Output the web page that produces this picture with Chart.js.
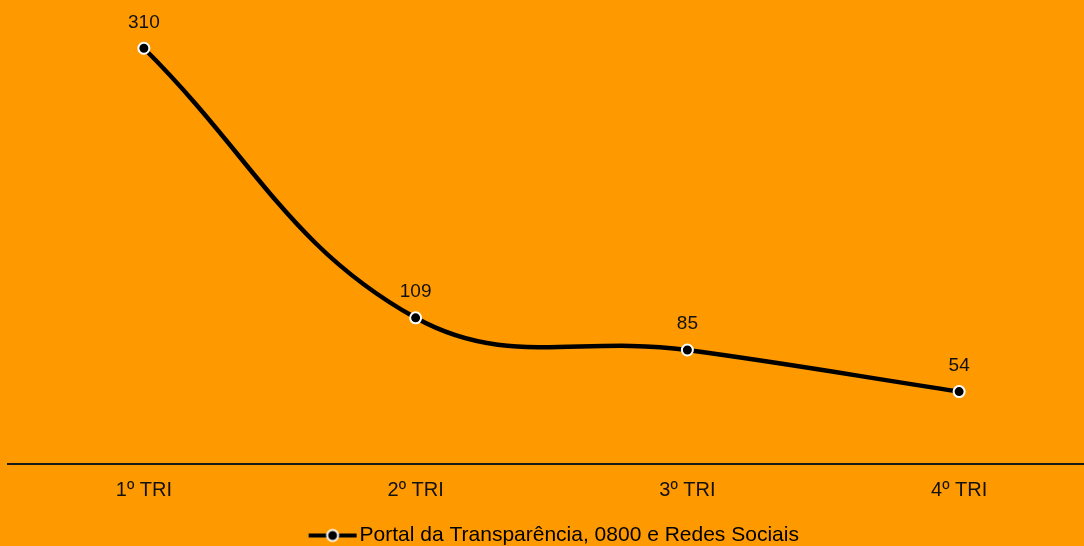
<!DOCTYPE html>
<html>
<head>
<meta charset="utf-8">
<script src="https://cdn.jsdelivr.net/npm/chart.js@4/dist/chart.umd.min.js"></script>
<style>
  html, body { margin: 0; padding: 0; background: #FF9900; overflow: hidden; }
  #wrap { width: 1095px; height: 556px; position: relative; }
</style>
</head>
<body>
<div id="wrap"><canvas id="chart"></canvas></div>
<script>
const categories = ["1º TRI", "2º TRI", "3º TRI", "4º TRI"];
const seriesName = "Portal da Transparência, 0800 e Redes Sociais";
const seriesValues = [310, 109, 85, 54];

const FONT = "'Liberation Sans', Arial, sans-serif";

// small canvas used as legend marker: line with a circle in the middle
// (drawn a little right of the image centre so the text sits close to it)
function legendMarker() {
    const c = document.createElement("canvas");
    c.width = 64;
    c.height = 16;
    const g = c.getContext("2d");
    g.strokeStyle = "#000";
    g.lineWidth = 4;
    g.beginPath();
    g.moveTo(14, 8);
    g.lineTo(62, 8);
    g.stroke();
    g.beginPath();
    g.arc(38, 8, 5.5, 0, Math.PI * 2);
    g.fillStyle = "#000";
    g.fill();
    g.lineWidth = 2;
    g.strokeStyle = "#fff";
    g.stroke();
    return c;
}

const valueLabels = {
    id: "valueLabels",
    afterDatasetsDraw(chart) {
        const ctx = chart.ctx;
        const meta = chart.getDatasetMeta(0);
        ctx.save();
        ctx.font = "19px " + FONT;
        ctx.fillStyle = "#111";
        ctx.textAlign = "center";
        ctx.textBaseline = "middle";
        meta.data.forEach((pt, i) => {
            ctx.fillText(String(seriesValues[i]), pt.x, pt.y - 26);
        });
        ctx.restore();
    }
};

const marker = legendMarker();

new Chart(document.getElementById("chart"), {
    type: "line",
    data: {
        labels: categories,
        datasets: [{
            label: seriesName,
            data: seriesValues,
            borderColor: "#000",
            borderWidth: 4.5,
            backgroundColor: "#000",
            pointBackgroundColor: "#000",
            pointBorderColor: "#fff",
            pointBorderWidth: 2,
            pointRadius: 5.5,
            tension: 0.4,
            clip: false
        }]
    },
    options: {
        responsive: true,
        maintainAspectRatio: false,
        animation: false,
        layout: { autoPadding: false, padding: { left: 8, right: 0, top: 0, bottom: 0 } },
        plugins: {
            tooltip: { enabled: false },
            legend: {
                position: "bottom",
                labels: {
                    usePointStyle: true,
                    pointStyleWidth: 45,
                    color: "#111",
                    font: { family: FONT, size: 21 },
                    padding: 3,
                    generateLabels(chart) {
                        const ds = chart.data.datasets[0];
                        return [{
                            text: ds.label,
                            pointStyle: marker,
                            fillStyle: "#000",
                            strokeStyle: "#000",
                            lineWidth: 0,
                            datasetIndex: 0
                        }];
                    }
                }
            }
        },
        scales: {
            x: {
                offset: true,
                grid: { display: false, drawTicks: false },
                border: { display: true, color: "#1a1a1a", width: 2 },
                ticks: {
                    color: "#111",
                    font: { family: FONT, size: 20 },
                    padding: 14
                },
                afterFit(scale) {
                    scale.height = 58;
                }
            },
            y: {
                display: false,
                min: 0,
                max: 346
            }
        }
    },
    plugins: [valueLabels]
});
</script>
</body>
</html>
